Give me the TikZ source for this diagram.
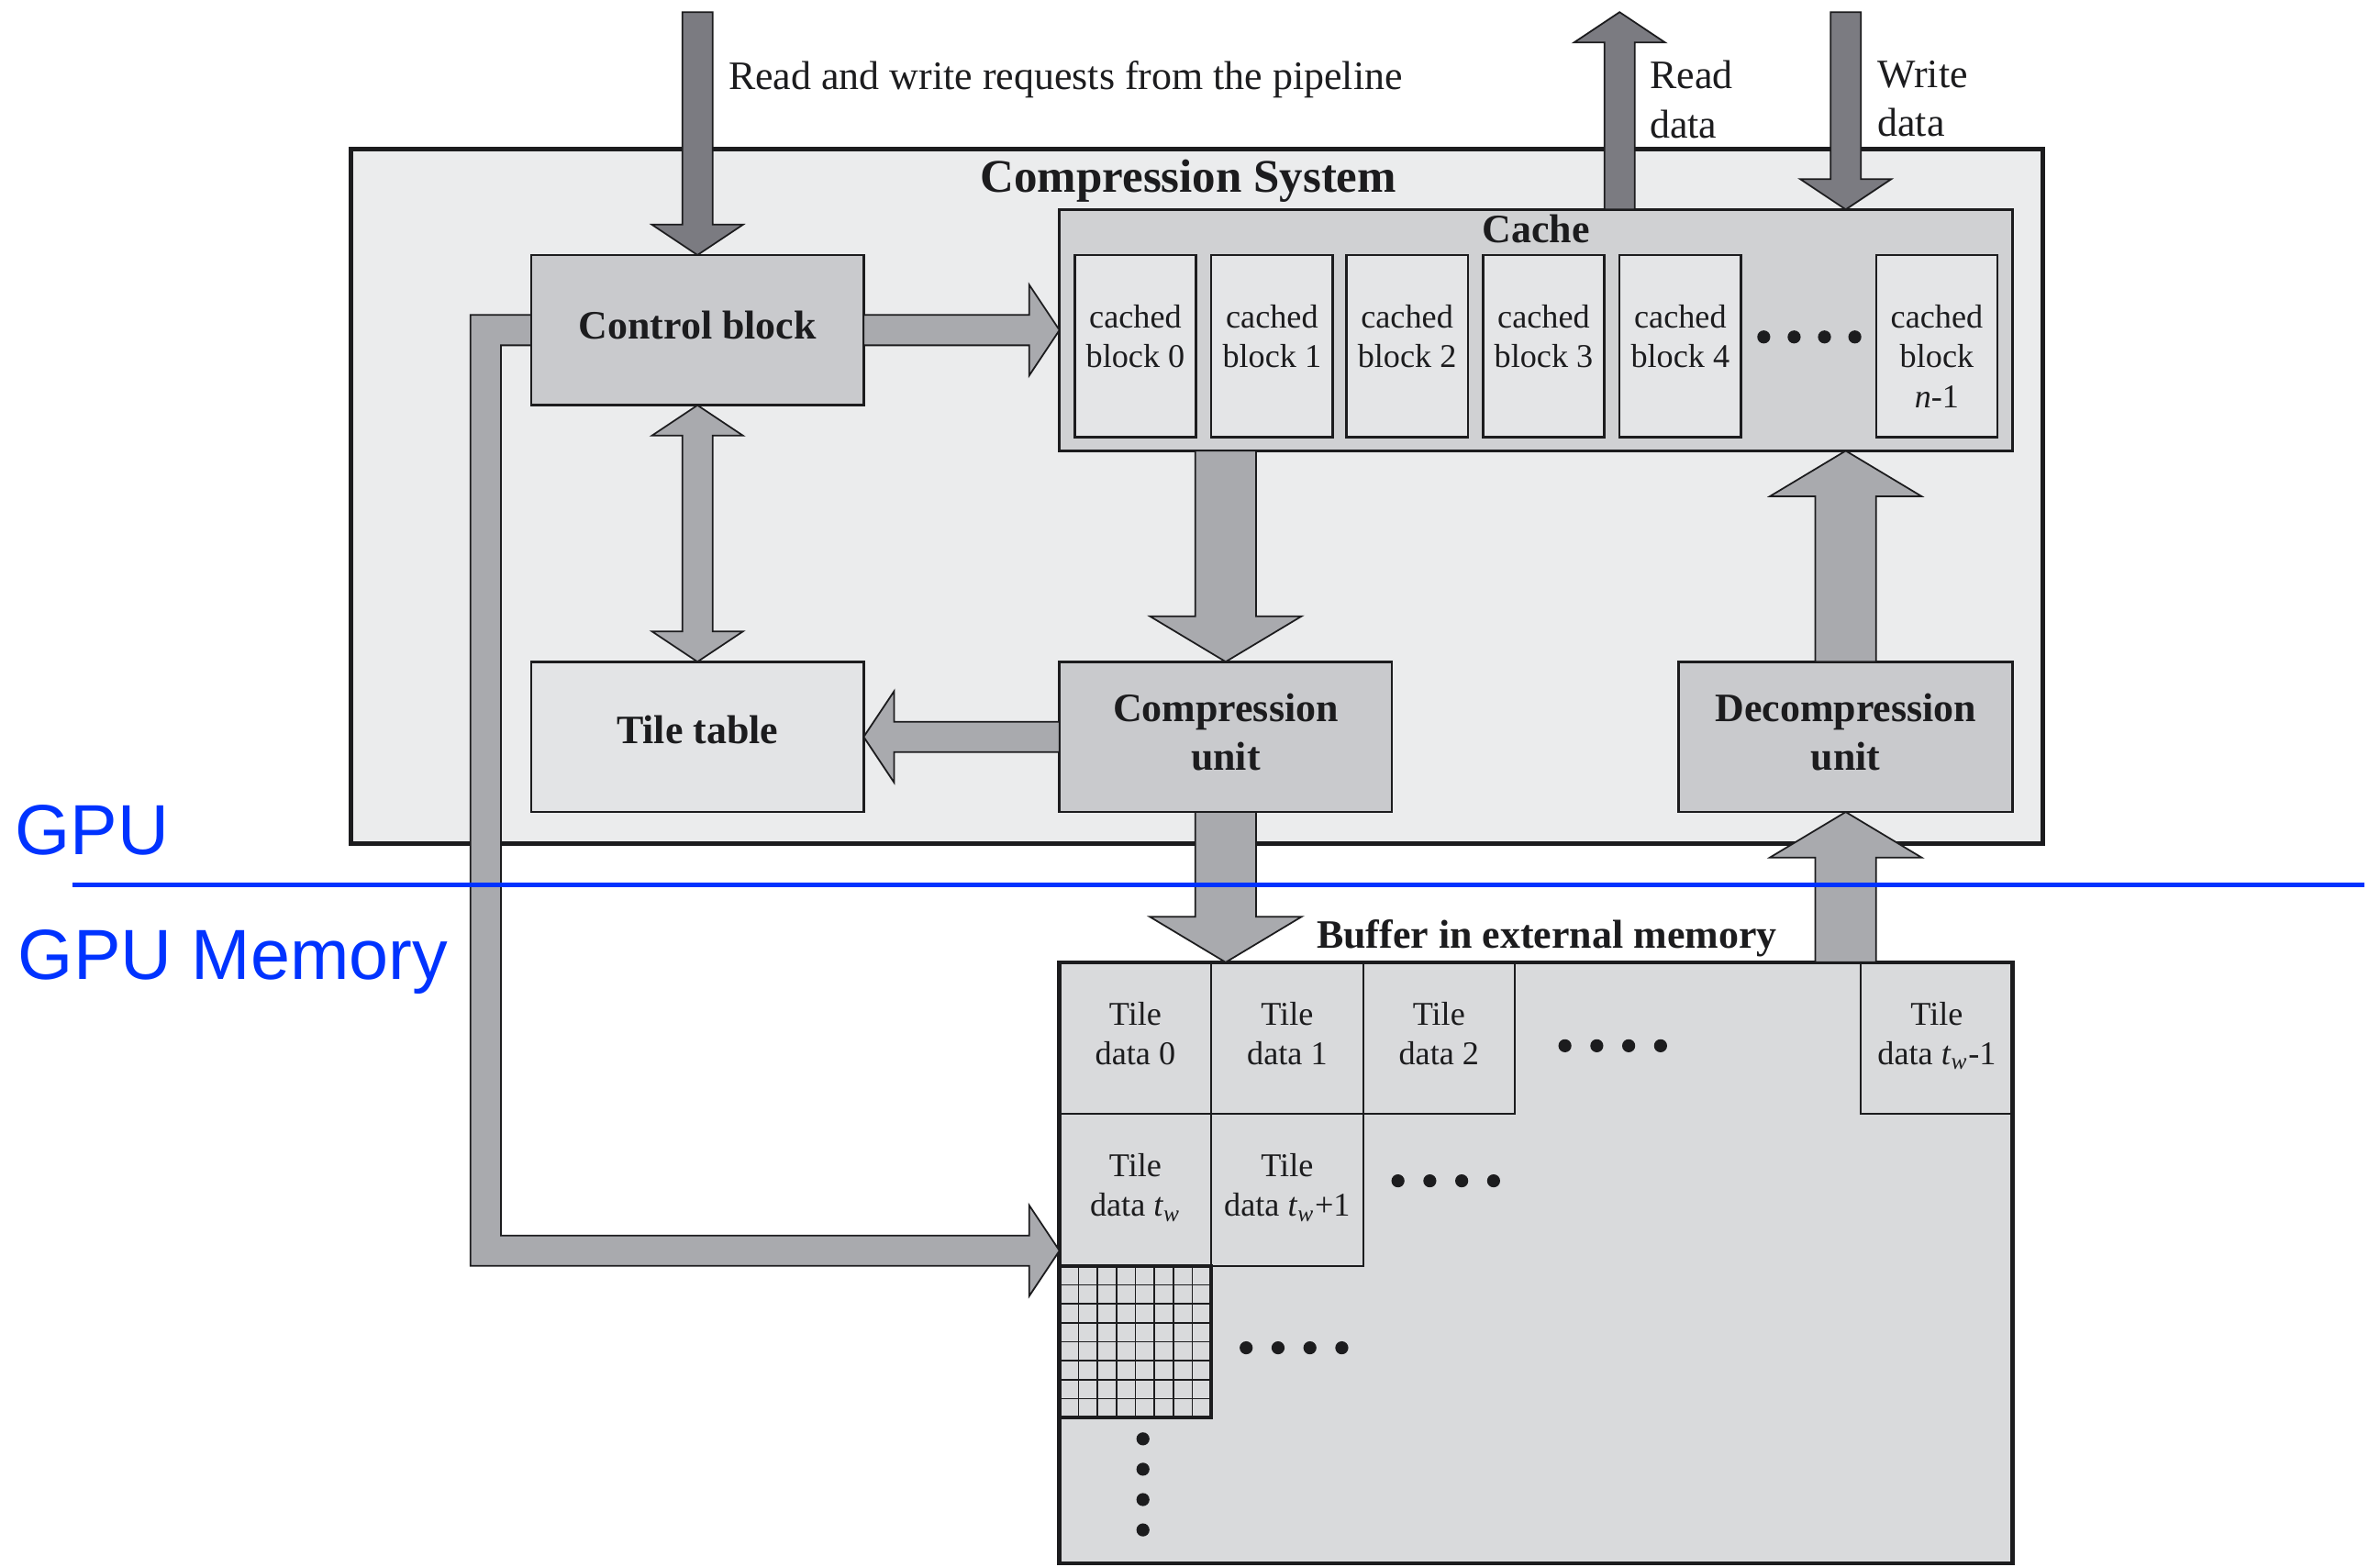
\documentclass[tikz,border=0pt]{standalone}
\usepackage{fontspec}
\setmainfont{Liberation Serif}
\newfontfamily\gpufont{Liberation Sans}
\usetikzlibrary{calc}

\definecolor{sysfill}{HTML}{EBECED}
\definecolor{cachefill}{HTML}{D0D1D3}
\definecolor{slotfill}{HTML}{E4E5E7}
\definecolor{unitfill}{HTML}{C9CACD}
\definecolor{tablefill}{HTML}{E3E4E6}
\definecolor{buffill}{HTML}{D9DADC}
\definecolor{darkarrow}{HTML}{7B7B81}
\definecolor{lightarrow}{HTML}{A9AAAE}
\definecolor{ink}{HTML}{1C1C1E}
\definecolor{gpublue}{HTML}{0033FF}

\def\px{0.016543cm}
% shaft half-width, head half-width, head length
\def\tw{0.1654cm}\def\th{0.4963cm}\def\tl{0.3309cm}
\def\bw{0.3309cm}\def\bh{0.8272cm}\def\bl{0.4963cm}

% single-headed block arrow from #2 to #3
\newcommand\blockarrow[6]{%
  \coordinate (ba-s) at (#2);
  \coordinate (ba-e) at (#3);
  \coordinate (ba-h) at ($(ba-e)!#6!(ba-s)$);
  \filldraw[#1] ($(ba-s)!#4!90:(ba-e)$) -- ($(ba-h)!#4!-90:(ba-s)$)
    -- ($(ba-h)!#5!-90:(ba-s)$) -- (ba-e) -- ($(ba-h)!#5!90:(ba-s)$)
    -- ($(ba-h)!#4!90:(ba-s)$) -- ($(ba-s)!#4!-90:(ba-e)$) -- cycle;
}
% double-headed block arrow between #2 and #3
\newcommand\dblockarrow[6]{%
  \coordinate (ba-s) at (#2);
  \coordinate (ba-e) at (#3);
  \coordinate (ba-h) at ($(ba-e)!#6!(ba-s)$);
  \coordinate (ba-g) at ($(ba-s)!#6!(ba-e)$);
  \filldraw[#1] (ba-s) -- ($(ba-g)!#5!90:(ba-e)$) -- ($(ba-g)!#4!90:(ba-e)$)
    -- ($(ba-h)!#4!-90:(ba-s)$) -- ($(ba-h)!#5!-90:(ba-s)$) -- (ba-e)
    -- ($(ba-h)!#5!90:(ba-s)$) -- ($(ba-h)!#4!90:(ba-s)$)
    -- ($(ba-g)!#4!-90:(ba-e)$) -- ($(ba-g)!#5!-90:(ba-e)$) -- cycle;
}

\begin{document}
\begin{tikzpicture}[x=0.016543cm, y=-0.016543cm,
  every node/.style={inner sep=0pt, outer sep=0pt, text=ink},
  unitbox/.style={draw=ink, line width=0.75pt, fill=unitfill, align=center,
    minimum width=219*\px, minimum height=99*\px, text depth=3pt,
    font=\fontsize{12.5}{15}\selectfont\bfseries},
  slot/.style={draw=ink, line width=0.7pt, fill=slotfill,
    minimum width=80*\px, minimum height=120*\px},
  slottext/.style={anchor=north, align=center,
    font=\fontsize{10.3}{12.3}\selectfont},
  tilecell/.style={draw=ink, line width=0.6pt, fill=buffill, align=center,
    minimum width=100*\px, minimum height=100*\px, text depth=3pt,
    font=\fontsize{10.3}{12.3}\selectfont},
  heading/.style={font=\fontsize{12.5}{15}\selectfont\bfseries},
  lbl/.style={font=\fontsize{12.5}{15.2}\selectfont, align=left},
  arrowdark/.style={fill=darkarrow, draw=ink, line width=0.5pt, line join=miter},
  arrowlight/.style={fill=lightarrow, draw=ink, line width=0.5pt, line join=miter},
  dot/.style={fill=ink},
  gpulbl/.style={text=gpublue, font=\gpufont\fontsize{22}{26}\selectfont}
]
\useasboundingbox (0,0) rectangle (1568,1032);
\fill[white] (0,0) rectangle (1568,1032);

% ---- compression system frame ----
\node[draw=ink, line width=1.5pt, fill=sysfill,
  minimum width=1115*\px, minimum height=458*\px] (sys) at (788.5,327) {};
\node[font=\fontsize{14.5}{17}\selectfont\bfseries] (systitle) at (783,119) {Compression System};

% ---- cache ----
\node[draw=ink, line width=0.75pt, fill=cachefill,
  minimum width=628*\px, minimum height=159*\px] (cache) at (1012,217.5) {};
\node[heading] (cachetitle) at (1012,151) {Cache};
\node[slot] (cb0) at (748,228) {};
\node[slot] (cb1) at (838,228) {};
\node[slot] (cb2) at (927,228) {};
\node[slot] (cb3) at (1017,228) {};
\node[slot] (cb4) at (1107,228) {};
\node[slot] (cbn) at (1276,228) {};
\node[slottext] (cb0t) at ($(cb0.north)+(0,33)$) {cached\\block 0};
\node[slottext] (cb1t) at ($(cb1.north)+(0,33)$) {cached\\block 1};
\node[slottext] (cb2t) at ($(cb2.north)+(0,33)$) {cached\\block 2};
\node[slottext] (cb3t) at ($(cb3.north)+(0,33)$) {cached\\block 3};
\node[slottext] (cb4t) at ($(cb4.north)+(0,33)$) {cached\\block 4};
\node[slottext] (cbnt) at ($(cbn.north)+(0,33)$) {cached\\block\\\textit{n}-1};
\foreach \x in {1162,1182,1202,1222}
  \fill[dot] (\x,222) circle[radius=4.3*\px];

% ---- units ----
\node[unitbox] (ctrl) at (459.5,217.5) {Control block};
\node[unitbox, fill=tablefill, text depth=4.5pt] (tile) at (459.5,485.5) {Tile table};
\node[unitbox] (comp) at (807.5,485.5) {Compression\\unit};
\node[unitbox, minimum width=220*\px] (decomp) at (1216,485.5) {Decompression\\unit};

% ---- buffer in external memory ----
\node[fill=buffill, minimum width=628*\px, minimum height=396*\px] (buf) at (1012,832) {};
\node[heading] (buftitle) at (1019,618) {Buffer in external memory};
\node[tilecell] (t0) at (748,684) {Tile\\data 0};
\node[tilecell] (t1) at (848,684) {Tile\\data 1};
\node[tilecell] (t2) at (948,684) {Tile\\data 2};
\node[tilecell] (tlast) at (1276,684) {Tile\\data \textit{t}\textsubscript{\textit{w}}-1};
\node[tilecell] (tw0) at (748,784) {Tile\\data \textit{t}\textsubscript{\textit{w}}};
\node[tilecell] (tw1) at (848,784) {Tile\\data \textit{t}\textsubscript{\textit{w}}+1};
\node[tilecell] (gc) at (748,884) {};
\foreach \i in {1,...,7} {
  \draw[ink, line width=0.45pt] ($(gc.north west)+(12.5*\i,0)$) -- ($(gc.south west)+(12.5*\i,0)$);
  \draw[ink, line width=0.45pt] ($(gc.north west)+(0,12.5*\i)$) -- ($(gc.north east)+(0,12.5*\i)$);
}
\draw[ink, line width=1.1pt] (gc.north west) rectangle (gc.south east);
\draw[ink, line width=1.3pt] (buf.north west) rectangle (buf.south east);
\foreach \x in {1031,1052,1073,1094} \fill[dot] (\x,689) circle[radius=4.3*\px];
\foreach \x in {921,942,963,984} \fill[dot] (\x,778) circle[radius=4.3*\px];
\foreach \x in {821,842,863,884} \fill[dot] (\x,888) circle[radius=4.3*\px];
\foreach \y in {948,968,988,1008} \fill[dot] (753,\y) circle[radius=4.3*\px];

% ---- external connections ----
\coordinate (topline) at (0,8);
\coordinate (rdx) at (1067,0);
\blockarrow{arrowdark}{ctrl.north |- topline}{ctrl.north}{\tw}{\th}{\tl}
\blockarrow{arrowdark}{rdx |- cache.north}{rdx |- topline}{\tw}{\th}{\tl}
\blockarrow{arrowdark}{decomp.north |- topline}{decomp.north |- cache.north}{\tw}{\th}{\tl}
\node[lbl, anchor=north west] (reqlbl) at (480,40) {Read and write requests from the pipeline};
\node[lbl, anchor=north west] (rdlbl) at (1087,40) {Read\\data};
\node[lbl, anchor=north west] (wrlbl) at (1237,40) {Write\\data};

% ---- internal connections ----
\blockarrow{arrowlight}{ctrl.east}{ctrl.east -| cache.west}{\tw}{\th}{\tl}
\dblockarrow{arrowlight}{ctrl.south}{tile.north}{\tw}{\th}{\tl}
\blockarrow{arrowlight}{comp.west}{comp.west -| tile.east}{\tw}{\th}{\tl}
\blockarrow{arrowlight}{comp.north |- cache.south}{comp.north}{\bw}{\bh}{\bl}
\blockarrow{arrowlight}{decomp.north}{decomp.north |- cache.south}{\bw}{\bh}{\bl}
\blockarrow{arrowlight}{comp.south}{comp.south |- buf.north}{\bw}{\bh}{\bl}
\blockarrow{arrowlight}{decomp.south |- buf.north}{decomp.south}{\bw}{\bh}{\bl}

% control block to the tile data in the buffer
\coordinate (ltip) at ($(buf.north west)+(0,190)$);
\coordinate (L1) at ($(ctrl.west)+(0,-10)$);
\coordinate (L2) at ($(ctrl.west)+(0,10)$);
\filldraw[arrowlight] (L1) -| ($(ltip)+(-388,10)$) -- ($(ltip)+(-20,10)$)
  -- ($(ltip)+(-20,30)$) -- (ltip) -- ($(ltip)+(-20,-30)$)
  -- ($(ltip)+(-20,-10)$) -| ($(L2)+(-20,0)$) -- (L2) -- cycle;

% ---- GPU / memory boundary ----
\draw[gpublue, line width=1.2pt] (48,583) coordinate (bl) -- (1558,583) coordinate (br);
\node[gpulbl, anchor=base west] (gpu) at (10,563) {GPU};
\node[gpulbl, anchor=base west] (gpumem) at (12,645) {GPU Memory};
\end{tikzpicture}
\end{document}
